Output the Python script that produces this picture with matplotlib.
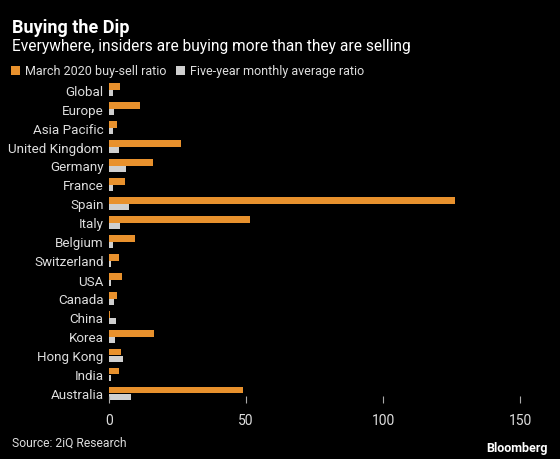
"""
plot.py - Bloomberg-style horizontal bar chart of insider buy-sell ratios.
"""
import numpy as np
import matplotlib
matplotlib.use("Agg")
import matplotlib.pyplot as plt

countries = ["Global", "Europe", "Asia Pacific", "United Kingdom", "Germany", "France",
             "Spain", "Italy", "Belgium", "Switzerland", "USA", "Canada", "China",
             "Korea", "Hong Kong", "India", "Australia"]
march_2020 = [4.0, 11.4, 2.8, 26.2, 16.2, 5.7, 126.3, 51.5, 9.5, 3.5, 4.7, 2.8, 0.4,
              16.5, 4.5, 3.8, 48.9]
five_year_avg = [1.3, 1.9, 1.6, 3.5, 6.1, 1.6, 7.4, 3.9, 1.6, 0.6, 0.7, 1.7, 2.6,
                 2.2, 5.1, 0.6, 7.9]
x_ticks = [0, 50, 100, 150]

ORANGE = "#e8912d"
GRAY = "#cfcfcf"
TEXT = "#dedede"
plt.rcParams["font.family"] = ["Roboto", "DejaVu Sans"]

fig = plt.figure(figsize=(5.6, 4.6), dpi=100, facecolor="black")
ax = fig.add_axes([109 / 560, 1 - 404 / 460, (534 - 109) / 560, (404 - 81) / 460])
ax.set_facecolor("black")

y = np.arange(len(countries))
h = 0.35
ax.barh(y - h / 2, march_2020, height=h, color=ORANGE, label="March 2020 buy-sell ratio")
ax.barh(y + h / 2, five_year_avg, height=h, color=GRAY, label="Five-year monthly average ratio")

ax.set_ylim(len(countries) - 0.5, -0.5)
ax.set_xlim(0, 155)
ax.set_yticks(y)
ax.set_yticklabels(countries)
ax.set_xticks(x_ticks)
for s in ax.spines.values():
    s.set_visible(False)
ax.tick_params(axis="y", length=0, pad=4, labelsize=9.6, labelcolor=TEXT)
ax.tick_params(axis="x", direction="in", length=5, width=0.8, color="#aaaaaa",
               pad=7, labelsize=10, labelcolor=TEXT)

fig.text(12 / 560, 1 - 28 / 460, "Buying the Dip", color="white", fontsize=13,
         fontweight="bold", va="center")
fig.text(12 / 560, 1 - 46 / 460, "Everywhere, insiders are buying more than they are selling",
         color="white", fontsize=11.2, va="center")
fig.legend(loc="center left", bbox_to_anchor=(6 / 560, 1 - 72 / 460), ncol=2, frameon=False,
           fontsize=9, labelcolor=TEXT, handlelength=0.7, handleheight=0.7,
           handletextpad=0.4, columnspacing=0.8, borderaxespad=0)
fig.text(12 / 560, 1 - 443 / 460, "Source: 2iQ Research", color=TEXT, fontsize=8.7, va="center")
fig.text(548 / 560, 1 - 449 / 460, "Bloomberg", color="white", fontsize=9,
         fontweight="bold", ha="right", va="center")

fig.savefig("out.png", dpi=100, facecolor="black")
